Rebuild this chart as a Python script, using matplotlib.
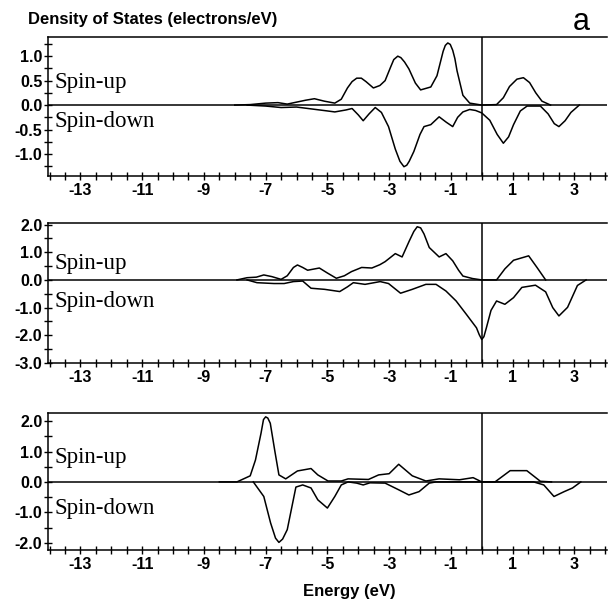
import matplotlib
matplotlib.use("Agg")
from matplotlib import pyplot as plt
from matplotlib.ticker import MultipleLocator, FixedLocator, FormatStrFormatter

plt.rcParams['axes.unicode_minus'] = False
plt.rcParams['font.family'] = ['Liberation Sans', 'DejaVu Sans']

# panel 1
up1_x = [-8.0, -7.5, -7.0, -6.6, -6.3, -6.0, -5.7, -5.42, -5.1, -4.76, -4.55, -4.35, -4.2, -4.05, -3.9, -3.75,
         -3.51, -3.3, -3.13, -2.95, -2.85, -2.72, -2.62, -2.5, -2.36, -2.15, -1.98, -1.65, -1.45, -1.35, -1.25,
         -1.18, -1.1, -1.02, -0.94, -0.87, -0.8, -0.61, -0.39, 0.0, 0.48, 0.7, 0.9, 1.14, 1.35, 1.55, 1.75,
         1.95, 2.23]
up1_y = [0.0, 0.01, 0.04, 0.05, 0.02, 0.06, 0.10, 0.13, 0.08, 0.04, 0.12, 0.35, 0.48, 0.55, 0.55, 0.48,
         0.35, 0.40, 0.50, 0.78, 0.93, 1.0, 0.97, 0.88, 0.74, 0.45, 0.31, 0.37, 0.6, 0.85, 1.1,
         1.22, 1.27, 1.24, 1.12, 0.95, 0.7, 0.2, 0.04, 0.0, 0.01, 0.15, 0.38, 0.53, 0.56, 0.46, 0.25,
         0.08, 0.0]
dn1_x = [-7.6, -7.0, -6.5, -6.0, -5.5, -5.0, -4.76, -4.4, -4.2, -4.0, -3.84, -3.65, -3.45, -3.25, -3.02,
         -2.8, -2.65, -2.52, -2.43, -2.35, -2.2, -2.0, -1.87, -1.65, -1.38, -1.15, -0.94, -0.78, -0.61, -0.39,
         -0.2, 0.0, 0.26, 0.5, 0.70, 0.87, 1.03, 1.25, 1.47, 1.9, 2.15, 2.35, 2.5, 2.7, 2.89, 3.16]
dn1_y = [0.0, -0.02, -0.05, -0.04, -0.08, -0.12, -0.14, -0.10, -0.07, -0.2, -0.32, -0.18, -0.05, -0.15, -0.44,
         -0.9, -1.15, -1.26, -1.23, -1.15, -0.95, -0.6, -0.44, -0.40, -0.24, -0.35, -0.44, -0.25, -0.14, -0.09,
         -0.11, -0.16, -0.31, -0.6, -0.78, -0.65, -0.40, -0.12, -0.02, -0.02, -0.18, -0.38, -0.44, -0.32, -0.15, 0.0]

# panel 2
up2_x = [-7.93, -7.6, -7.3, -7.06, -6.8, -6.5, -6.3, -6.1, -5.97, -5.8, -5.64, -5.26, -5.0, -4.71, -4.45,
         -4.22, -3.89, -3.56, -3.3, -3.13, -2.8, -2.58, -2.35, -2.2, -2.09, -1.98, -1.87, -1.7, -1.38, -1.16,
         -0.94, -0.75, -0.61, -0.3, 0.0, 0.48, 0.75, 1.03, 1.52, 1.79, 2.07]
up2_y = [0.0, 0.08, 0.10, 0.18, 0.12, 0.02, 0.15, 0.45, 0.54, 0.45, 0.35, 0.43, 0.25, 0.06, 0.15,
         0.30, 0.45, 0.43, 0.55, 0.66, 0.95, 0.83, 1.4, 1.75, 1.92, 1.88, 1.66, 1.17, 0.83, 0.95,
         0.69, 0.35, 0.14, 0.05, 0.0, 0.0, 0.4, 0.71, 0.87, 0.45, 0.0]
dn2_x = [-7.6, -7.28, -6.73, -6.4, -6.1, -5.8, -5.53, -5.09, -4.6, -4.35, -4.16, -3.78, -3.29, -3.02, -2.63,
         -2.25, -1.81, -1.48, -1.16, -0.83, -0.5, -0.17, -0.08, 0.0, 0.07, 0.15, 0.3, 0.48, 0.75, 1.03, 1.3,
         1.74, 2.07, 2.3, 2.5, 2.78, 3.1, 3.38]
dn2_y = [0.0, -0.1, -0.13, -0.13, -0.06, -0.04, -0.3, -0.34, -0.42, -0.25, -0.10, -0.16, -0.06, -0.13, -0.48,
         -0.34, -0.16, -0.16, -0.40, -0.76, -1.24, -1.73, -1.98, -2.15, -2.05, -1.73, -1.1, -0.76, -0.88, -0.64, -0.27,
         -0.19, -0.43, -1.0, -1.3, -0.99, -0.2, 0.0]

# panel 3
up3_x = [-8.5, -7.93, -7.5, -7.33, -7.15, -7.07, -7.0, -6.93, -6.85, -6.7, -6.57, -6.35, -5.97, -5.53, -5.31,
         -4.98, -4.55, -4.33, -3.67, -3.34, -3.0, -2.69, -2.25, -1.81, -1.38, -0.72, -0.28, 0.0, 0.43, 0.92,
         1.46, 1.9, 2.26]
up3_y = [0.0, 0.0, 0.2, 0.72, 1.6, 2.05, 2.14, 2.1, 1.93, 1.0, 0.23, 0.10, 0.36, 0.44, 0.23,
         0.03, 0.03, 0.10, 0.08, 0.23, 0.27, 0.58, 0.2, 0.03, 0.10, 0.07, 0.14, 0.0, 0.0, 0.37,
         0.37, 0.02, 0.0]
dn3_x = [-7.4, -7.06, -6.84, -6.68, -6.57, -6.45, -6.3, -6.02, -5.8, -5.53, -5.31, -5.0, -4.76, -4.55, -4.33,
         -4.05, -3.84, -3.62, -3.13, -2.69, -2.36, -2.03, -1.7, -1.48, 0.43, 1.68, 2.01, 2.34, 2.67, 2.94, 3.21]
dn3_y = [0.0, -0.48, -1.35, -1.85, -1.99, -1.88, -1.57, -0.17, -0.1, -0.2, -0.59, -0.86, -0.48, -0.1, 0.0,
         -0.04, -0.1, -0.03, -0.04, -0.26, -0.43, -0.32, -0.04, 0.0, 0.0, 0.0, -0.1, -0.48, -0.32, -0.2, 0.0]

panels = [
    (up1_x, up1_y, dn1_x, dn1_y, (-1.45, 1.39), 0.25, [-1.0, -0.5, 0.0, 0.5, 1.0], 0.633, 0.355),
    (up2_x, up2_y, dn2_x, dn2_y, (-3.0, 2.06), 0.5, [-3.0, -2.0, -1.0, 0.0, 1.0, 2.0], 0.669, 0.398),
    (up3_x, up3_y, dn3_x, dn3_y, (-2.24, 2.27), 0.5, [-2.0, -1.0, 0.0, 1.0, 2.0], 0.637, 0.263),
]
boxes = [[0.0787, 0.7086, 0.916, 0.230],
         [0.0787, 0.399, 0.916, 0.232],
         [0.0787, 0.0894, 0.916, 0.227]]

fig = plt.figure(figsize=(6.1, 6.04), dpi=100)

for box, (ux, uy, dx, dy, ylim, ystep, ylabs, yu, yd) in zip(boxes, panels):
    ax = fig.add_axes(box)
    ax.plot(ux, uy, color='black', lw=1.1)
    ax.plot(dx, dy, color='black', lw=1.1)
    ax.axhline(0, color='black', lw=1.1)
    ax.axvline(0, color='black', lw=1.1)
    ax.set_xlim(-14.05, 4.05)
    ax.set_ylim(*ylim)
    ax.spines['right'].set_visible(False)
    for s in ['top', 'left', 'bottom']:
        ax.spines[s].set_linewidth(1.1)
    ax.xaxis.set_major_locator(FixedLocator([-13, -11, -9, -7, -5, -3, -1, 1, 3]))
    ax.xaxis.set_minor_locator(MultipleLocator(0.5))
    ax.yaxis.set_major_locator(FixedLocator(ylabs))
    ax.yaxis.set_minor_locator(MultipleLocator(ystep))
    ax.yaxis.set_major_formatter(FormatStrFormatter('%.1f'))
    ax.tick_params(which='both', direction='inout', length=6, width=1, top=False, right=False)
    ax.tick_params(axis='x', pad=2)
    ax.tick_params(axis='y', pad=1)
    for lab in ax.get_xticklabels() + ax.get_yticklabels():
        lab.set_fontsize(11.5)
        lab.set_fontweight('bold')
    ax.text(0.0125, yu, 'Spin-up', transform=ax.transAxes, fontsize=16.5,
            family='Liberation Serif', va='baseline', ha='left')
    ax.text(0.0125, yd, 'Spin-down', transform=ax.transAxes, fontsize=16.5,
            family='Liberation Serif', va='baseline', ha='left')

fig.text(0.046, 0.967, 'Density of States (electrons/eV)', fontsize=12, fontweight='bold',
         ha='left', va='center')
fig.text(0.953, 0.963, 'a', fontsize=22, ha='center', va='center')
fig.text(0.573, 0.0215, 'Energy (eV)', fontsize=12, fontweight='bold', ha='center', va='center')

fig.savefig('out.png', dpi=100)
